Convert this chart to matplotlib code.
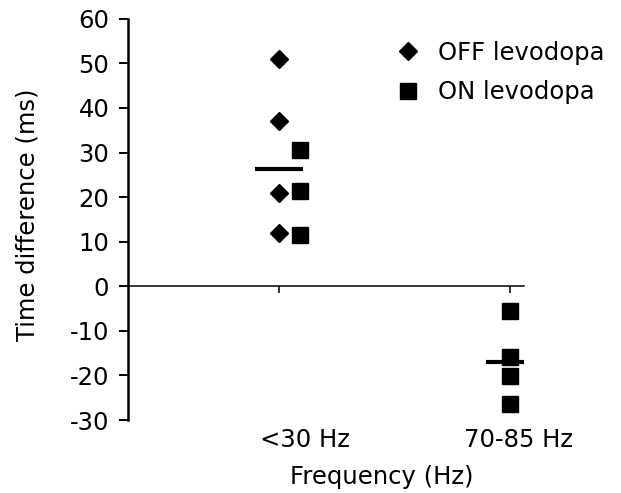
import numpy as np
import matplotlib
matplotlib.use("Agg")
import matplotlib.pyplot as plt
from matplotlib.lines import Line2D

# values (ms)
categories = ["<30 Hz", "70-85 Hz"]
off_lt30 = [51.0, 37.0, 21.0, 12.0]
on_lt30 = [30.5, 21.4, 11.5]
on_70_85 = [-5.6, -15.8, -20.1, -26.5]
yticks = [-30, -20, -10, 0, 10, 20, 30, 40, 50, 60]

plt.rcParams['font.family'] = ['DejaVu Sans']
FS = 17.5

fig = plt.figure(figsize=(6.21, 4.93), dpi=100)
ax = fig.add_axes([128 / 621, 0.148, 396 / 621, 0.814])

x1, x2 = 1, 2
on_shift = 0.09

ax.plot([x1] * len(off_lt30), off_lt30, linestyle='none', marker='D',
        markersize=9.2, color='black')
ax.plot([x1 + on_shift] * len(on_lt30), on_lt30, linestyle='none', marker='s',
        markersize=11.5, color='black')
ax.plot([x2] * len(on_70_85), on_70_85, linestyle='none', marker='s',
        markersize=11.5, color='black')

# group means
mean1 = np.mean(off_lt30 + on_lt30)
mean2 = np.mean(on_70_85)
ax.hlines([mean1, mean2], [x1 - 0.104, x2 - 0.104], [x1 + 0.104, x2 + 0.104],
          color='black', linewidth=3)

ax.set_xlim(0.346, 2.061)
ax.set_ylim(-30, 60)
ax.set_yticks(yticks)
ax.set_yticklabels([str(v) for v in yticks], fontsize=FS)
ax.set_xticks([x1, x2])
ax.set_xticklabels([])

ax.spines['top'].set_visible(False)
ax.spines['right'].set_visible(False)
ax.spines['bottom'].set_position(('data', 0))
ax.spines['bottom'].set_linewidth(1.1)
ax.spines['left'].set_linewidth(1.8)
ax.tick_params(axis='y', direction='out', length=6.5, width=1.4, pad=7)
ax.tick_params(axis='x', direction='out', length=5, width=1.1)

# category labels below the plot
fig.text(304.5 / 621, 1 - 440 / 493, categories[0], fontsize=FS, ha='center', va='center')
fig.text(519 / 621, 1 - 440 / 493, categories[1], fontsize=FS, ha='center', va='center')
fig.text(382 / 621, 1 - 477 / 493, "Frequency (Hz)", fontsize=FS, ha='center', va='center')
fig.text(28 / 621, 1 - 215 / 493, "Time difference (ms)", fontsize=FS,
         ha='center', va='center', rotation=90)

handles = [
    Line2D([], [], linestyle='none', marker='D', markersize=9.2, color='black'),
    Line2D([], [], linestyle='none', marker='s', markersize=11.5, color='black'),
]
fig.legend(handles, ["OFF levodopa", "ON levodopa"], loc='upper left',
           bbox_to_anchor=(396 / 621, 1 - 41 / 493), frameon=False, fontsize=FS,
           handlelength=1.0, handletextpad=0.72, labelspacing=0.62,
           borderpad=0, borderaxespad=0)

fig.savefig("out.png", dpi=100)
